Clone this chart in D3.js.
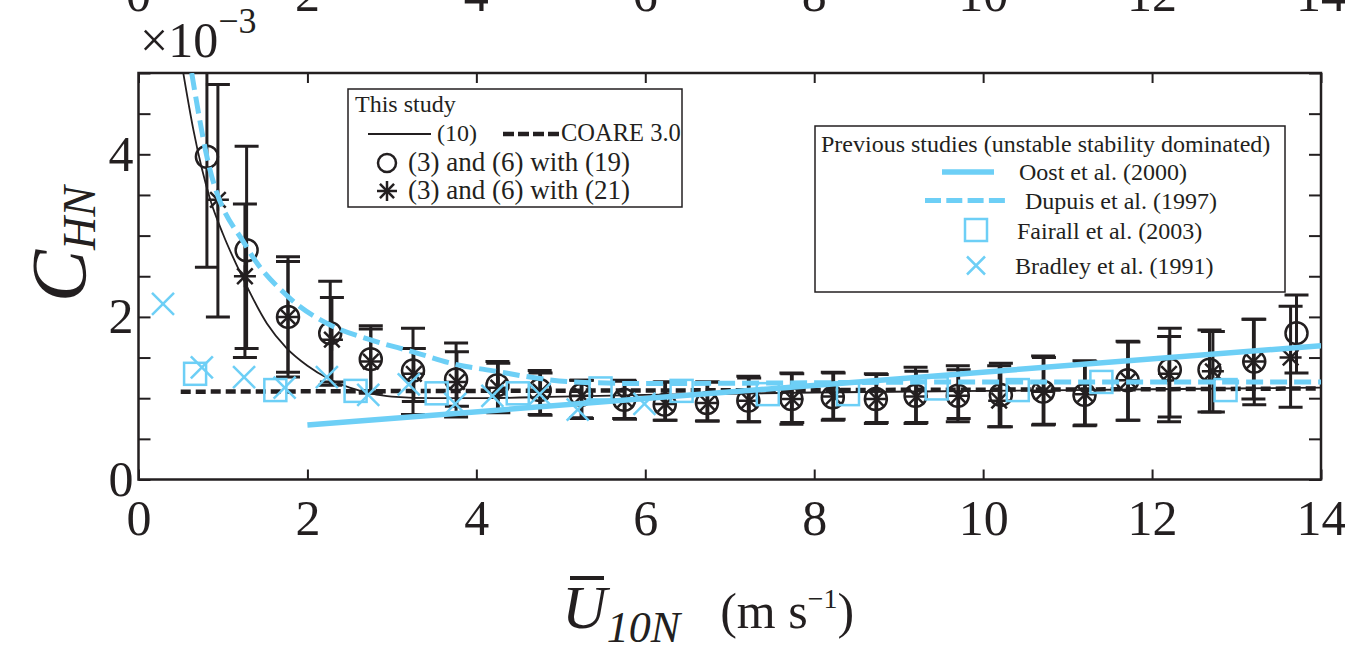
<!DOCTYPE html>
<html>
<head>
<meta charset="utf-8">
<script src="https://cdnjs.cloudflare.com/ajax/libs/d3/7.8.5/d3.min.js"></script>
<style>
  body { margin: 0; background: #fff; }
  svg { display: block; font-family: "Liberation Serif", "Times New Roman", serif; }
</style>
</head>
<body>
<svg id="chart" width="1345" height="645"></svg>
<script>
// ---- data (C_HN in units of 1e-3) ----
const xTicks = [0, 2, 4, 6, 8, 10, 12, 14];
const yTicks = [0, 0.5, 1, 1.5, 2, 2.5, 3, 3.5, 4, 4.5, 5];
const yLabels = [0, 2, 4];

// (3) and (6) with (19) -- circles
const eq19U    = [0.81, 1.28, 1.77, 2.27, 2.75, 3.25, 3.76, 4.25, 4.75, 5.24, 5.75, 6.23, 6.73, 7.22, 7.73, 8.22, 8.73, 9.20, 9.70, 10.21, 10.71, 11.20, 11.71, 12.21, 12.68, 13.21, 13.71];
const eq19C    = [3.97, 2.82, 2.00, 1.80, 1.48, 1.34, 1.23, 1.16, 1.10, 1.04, 0.98, 0.92, 0.94, 0.97, 0.99, 1.01, 0.99, 1.03, 1.03, 1.04, 1.08, 1.04, 1.22, 1.35, 1.35, 1.45, 1.80];
const eq19Low  = [2.61, 1.61, 1.26, 1.16, 1.06, 0.80, 0.77, 0.83, 0.80, 0.76, 0.75, 0.73, 0.72, 0.71, 0.68, 0.73, 0.69, 0.69, 0.71, 0.65, 0.67, 0.66, 0.73, 0.77, 0.83, 0.92, 1.31];
const eq19High = [5.40, 4.10, 2.74, 2.44, 1.89, 1.86, 1.68, 1.45, 1.34, 1.22, 1.22, 1.20, 1.20, 1.27, 1.31, 1.32, 1.30, 1.38, 1.40, 1.43, 1.52, 1.46, 1.70, 1.86, 1.84, 1.97, 2.27];

// (3) and (6) with (21) -- asterisks
const eq21U    = [0.94, 1.26, 1.77, 2.29, 2.75, 3.26, 3.77, 4.26, 4.76, 5.25, 5.76, 6.24, 6.74, 7.23, 7.74, 8.23, 8.74, 9.21, 9.71, 10.19, 10.72, 11.21, 11.72, 12.20, 12.72, 13.20, 13.64];
const eq21C    = [3.44, 2.50, 2.00, 1.72, 1.45, 1.30, 1.20, 1.13, 1.08, 1.03, 0.98, 0.93, 0.94, 0.97, 0.99, 1.02, 0.99, 1.02, 1.03, 0.97, 1.08, 1.05, 1.22, 1.30, 1.33, 1.45, 1.50];
const eq21Low  = [2.00, 1.50, 1.32, 1.20, 1.08, 0.96, 0.90, 0.82, 0.79, 0.75, 0.74, 0.73, 0.72, 0.71, 0.70, 0.74, 0.70, 0.70, 0.75, 0.65, 0.68, 0.67, 0.73, 0.71, 0.83, 0.99, 0.89];
const eq21High = [4.86, 3.39, 2.68, 2.24, 1.85, 1.61, 1.57, 1.43, 1.31, 1.22, 1.21, 1.20, 1.20, 1.25, 1.30, 1.31, 1.29, 1.33, 1.35, 1.40, 1.50, 1.45, 1.69, 1.76, 1.82, 1.97, 2.13];

// curve (10)
const eq10U = [0.53, 0.65, 0.85, 1.00, 1.22, 1.52, 1.75, 2.00, 2.25, 2.50, 2.75, 3.00, 3.50, 4.00, 5.00, 6.00, 8.00, 10.00, 12.00, 14.00];
const eq10C = [5.00, 4.30, 3.44, 3.02, 2.51, 1.92, 1.62, 1.40, 1.24, 1.13, 1.06, 1.02, 1.00, 1.00, 1.02, 1.04, 1.07, 1.09, 1.11, 1.13];

// COARE 3.0
const coareU = [0.5, 4, 8, 12, 14];
const coareC = [1.08, 1.09, 1.10, 1.11, 1.12];

// Oost et al. (2000)
const oostU = [2, 14];
const oostC = [0.67, 1.645];

// Dupuis et al. (1997)
const dupuisU = [0.63, 0.81, 1.28, 1.77, 2.27, 2.74, 3.25, 3.74, 4.24, 4.63, 5.15, 6.00, 8.00, 10.00, 12.00, 14.00];
const dupuisC = [5.00, 3.97, 2.86, 2.25, 1.90, 1.72, 1.57, 1.42, 1.33, 1.26, 1.20, 1.18, 1.19, 1.20, 1.20, 1.20];

// Fairall et al. (2003)
const fairallU = [0.67, 1.62, 2.57, 3.53, 4.49, 5.47, 6.43, 7.45, 8.40, 9.45, 10.41, 11.40, 12.87];
const fairallC = [1.30, 1.10, 1.09, 1.06, 1.06, 1.12, 1.09, 1.05, 1.05, 1.12, 1.10, 1.20, 1.10];

// Bradley et al. (1991)
const bradleyU = [0.29, 0.75, 1.25, 1.73, 2.23, 2.72, 3.20, 3.75, 4.19, 4.75, 5.20, 5.99];
const bradleyC = [2.16, 1.38, 1.26, 1.13, 1.26, 1.04, 1.17, 0.93, 1.03, 1.05, 0.86, 0.93];

// ---- styling ----
const INK = '#231f20';
const CYAN = '#6dcff6';
const SERIF = '"Liberation Serif", "Times New Roman", serif';

const svg = d3.select('#chart').attr('font-family', SERIF);
const x = d3.scaleLinear().domain([0, 14]).range([138.5, 1321]);
const y = d3.scaleLinear().domain([0, 5]).range([479.5, 73]);

const zip = (a, b) => a.map((v, i) => [v, b[i]]);
const line = d3.line().x(d => x(d[0])).y(d => y(d[1]));

svg.append('defs').append('clipPath').attr('id', 'plot-clip')
  .append('rect')
  .attr('x', x(0)).attr('y', y(5))
  .attr('width', x(14) - x(0)).attr('height', y(0) - y(5));

// cut-off tick labels of the panel above
svg.append('g').selectAll('text')
  .data(xTicks).enter().append('text')
  .attr('x', d => x(d)).attr('y', 11)
  .attr('text-anchor', 'middle')
  .style('font-size', '50px').attr('fill', INK)
  .text(d => d);

// ---- axes ----
function styleAxis(g) {
  g.attr('font-family', SERIF);
  g.select('.domain').remove();
  g.selectAll('.tick line').attr('stroke', INK).attr('stroke-width', 2);
  g.selectAll('.tick text').attr('fill', INK).style('font-size', '50px');
}

svg.append('g').attr('transform', `translate(0,${y(0)})`)
  .call(d3.axisBottom(x).tickValues(xTicks).tickSizeInner(-10).tickSizeOuter(0).tickPadding(20))
  .call(styleAxis);

svg.append('g').attr('transform', `translate(0,${y(5)})`)
  .call(d3.axisTop(x).tickValues(xTicks).tickSizeInner(-10).tickSizeOuter(0).tickFormat(''))
  .call(styleAxis);

svg.append('g').attr('transform', `translate(${x(0)},0)`)
  .call(d3.axisLeft(y).tickValues(yTicks).tickSizeInner(-12).tickSizeOuter(0).tickPadding(5)
    .tickFormat(d => yLabels.includes(d) ? d : ''))
  .call(styleAxis);

svg.append('g').attr('transform', `translate(${x(14)},0)`)
  .call(d3.axisRight(y).tickValues(yTicks).tickSizeInner(-12).tickSizeOuter(0).tickFormat(''))
  .call(styleAxis);

svg.append('rect')
  .attr('x', x(0)).attr('y', y(5))
  .attr('width', x(14) - x(0)).attr('height', y(0) - y(5))
  .attr('fill', 'none').attr('stroke', INK).attr('stroke-width', 2.5);

// ---- marks ----
const plot = svg.append('g').attr('clip-path', 'url(#plot-clip)');

function errorBars(us, lows, highs) {
  const g = plot.append('g').attr('stroke', INK).attr('stroke-width', 3).attr('fill', 'none');
  us.forEach((u, i) => {
    const cx = x(u);
    g.append('line').attr('x1', cx).attr('x2', cx).attr('y1', y(lows[i])).attr('y2', y(highs[i]));
    g.append('line').attr('x1', cx - 12).attr('x2', cx + 12).attr('y1', y(lows[i])).attr('y2', y(lows[i]));
    g.append('line').attr('x1', cx - 12).attr('x2', cx + 12).attr('y1', y(highs[i])).attr('y2', y(highs[i]));
  });
}
errorBars(eq19U, eq19Low, eq19High);
errorBars(eq21U, eq21Low, eq21High);

function circleMark(g, cx, cy, r) {
  g.append('circle').attr('cx', cx).attr('cy', cy).attr('r', r)
    .attr('fill', 'none').attr('stroke', INK).attr('stroke-width', 2.5);
}
function starMark(g, cx, cy, r) {
  [0, 45, 90, 135].forEach(a => {
    const t = a * Math.PI / 180;
    g.append('line')
      .attr('x1', cx - r * Math.cos(t)).attr('y1', cy - r * Math.sin(t))
      .attr('x2', cx + r * Math.cos(t)).attr('y2', cy + r * Math.sin(t))
      .attr('stroke', INK).attr('stroke-width', 2.5);
  });
}
function squareMark(g, cx, cy, s) {
  g.append('rect').attr('x', cx - s / 2).attr('y', cy - s / 2).attr('width', s).attr('height', s)
    .attr('fill', 'none').attr('stroke', CYAN).attr('stroke-width', 2.5);
}
function crossMark(g, cx, cy, r) {
  [[-1, -1, 1, 1], [-1, 1, 1, -1]].forEach(p => {
    g.append('line')
      .attr('x1', cx + p[0] * r).attr('y1', cy + p[1] * r)
      .attr('x2', cx + p[2] * r).attr('y2', cy + p[3] * r)
      .attr('stroke', CYAN).attr('stroke-width', 2.5);
  });
}

const gCirc = plot.append('g');
eq19U.forEach((u, i) => circleMark(gCirc, x(u), y(eq19C[i]), 11));
const gStar = plot.append('g');
eq21U.forEach((u, i) => starMark(gStar, x(u), y(eq21C[i]), 11));

plot.append('path')
  .attr('d', line.curve(d3.curveMonotoneX)(zip(eq10U, eq10C)))
  .attr('fill', 'none').attr('stroke', INK).attr('stroke-width', 1.8);

plot.append('path')
  .attr('d', d3.line().x(d => x(d[0])).y(d => y(d[1]))(zip(coareU, coareC)))
  .attr('fill', 'none').attr('stroke', INK).attr('stroke-width', 4.5).attr('stroke-dasharray', '10,5');

const gSq = plot.append('g');
fairallU.forEach((u, i) => squareMark(gSq, x(u), y(fairallC[i]), 22));
const gX = plot.append('g');
bradleyU.forEach((u, i) => crossMark(gX, x(u), y(bradleyC[i]), 11));

plot.append('path')
  .attr('d', d3.line().x(d => x(d[0])).y(d => y(d[1]))(zip(oostU, oostC)))
  .attr('fill', 'none').attr('stroke', CYAN).attr('stroke-width', 5.5);

plot.append('path')
  .attr('d', d3.line().x(d => x(d[0])).y(d => y(d[1])).curve(d3.curveMonotoneX)(zip(dupuisU, dupuisC)))
  .attr('fill', 'none').attr('stroke', CYAN).attr('stroke-width', 5).attr('stroke-dasharray', '17,7');

// ---- legend: this study ----
const leg1 = svg.append('g');
leg1.append('rect').attr('x', 348).attr('y', 89).attr('width', 334).attr('height', 118)
  .attr('fill', '#fff').attr('stroke', INK).attr('stroke-width', 1.5);
leg1.append('text').attr('x', 355).attr('y', 112).style('font-size', '24px').attr('fill', INK).text('This study');
leg1.append('line').attr('x1', 368).attr('x2', 431).attr('y1', 134).attr('y2', 134)
  .attr('stroke', INK).attr('stroke-width', 2);
leg1.append('text').attr('x', 437).attr('y', 141).style('font-size', '24px').attr('fill', INK).text('(10)');
leg1.append('line').attr('x1', 503).attr('x2', 560).attr('y1', 134).attr('y2', 134)
  .attr('stroke', INK).attr('stroke-width', 4.5).attr('stroke-dasharray', '11,4');
leg1.append('text').attr('x', 561).attr('y', 141).style('font-size', '24.5px').attr('fill', INK).text('COARE 3.0');
circleMark(leg1, 387, 163, 9);
leg1.append('text').attr('x', 408).attr('y', 171).style('font-size', '27px').attr('fill', INK).text('(3) and (6) with (19)');
starMark(leg1, 387, 191, 10);
leg1.append('text').attr('x', 408).attr('y', 199).style('font-size', '27px').attr('fill', INK).text('(3) and (6) with (21)');

// ---- legend: previous studies ----
const leg2 = svg.append('g');
leg2.append('rect').attr('x', 815).attr('y', 126).attr('width', 470).attr('height', 166)
  .attr('fill', '#fff').attr('stroke', INK).attr('stroke-width', 1.5);
leg2.append('text').attr('x', 821).attr('y', 152).style('font-size', '24px').attr('fill', INK)
  .text('Previous studies (unstable stability dominated)');
leg2.append('line').attr('x1', 942).attr('x2', 994).attr('y1', 172).attr('y2', 172)
  .attr('stroke', CYAN).attr('stroke-width', 5.5);
leg2.append('text').attr('x', 1019).attr('y', 180).style('font-size', '24px').attr('fill', INK).text('Oost et al. (2000)');
leg2.append('line').attr('x1', 925).attr('x2', 1005).attr('y1', 200.5).attr('y2', 200.5)
  .attr('stroke', CYAN).attr('stroke-width', 5).attr('stroke-dasharray', '16,5.3');
leg2.append('text').attr('x', 1025).attr('y', 209).style('font-size', '24px').attr('fill', INK).text('Dupuis et al. (1997)');
squareMark(leg2, 976, 230, 22);
leg2.append('text').attr('x', 1017).attr('y', 239).style('font-size', '24px').attr('fill', INK).text('Fairall et al. (2003)');
crossMark(leg2, 976, 265.5, 9);
leg2.append('text').attr('x', 1015).attr('y', 274).style('font-size', '24px').attr('fill', INK).text('Bradley et al. (1991)');

// ---- multiplier ----
const mult = svg.append('text').attr('x', 140).attr('y', 57).attr('fill', INK).style('font-size', '50px');
mult.append('tspan').text('\u00d710');
mult.append('tspan').attr('dy', -24).style('font-size', '36px').text('\u22123');

// ---- axis titles ----
const yt = svg.append('text').attr('transform', 'translate(85,302) rotate(-90)')
  .attr('fill', INK).style('font-style', 'italic');
yt.append('tspan').style('font-size', '78px').text('C');
yt.append('tspan').attr('dy', 10).style('font-size', '46px').text('HN');

const xt = svg.append('text').attr('x', 562).attr('y', 628).attr('fill', INK);
xt.append('tspan').style('font-style', 'italic').style('font-size', '62px').text('U');
xt.append('tspan').attr('dy', 14).style('font-style', 'italic').style('font-size', '44px').text('10N');
xt.append('tspan').attr('dy', -14).attr('dx', 40).style('font-size', '50px').text('(m s');
xt.append('tspan').attr('dy', -20).style('font-size', '28px').text('\u22121');
xt.append('tspan').attr('dy', 20).style('font-size', '50px').text(')');
svg.append('line').attr('x1', 570).attr('x2', 604).attr('y1', 578).attr('y2', 578)
  .attr('stroke', INK).attr('stroke-width', 4);
</script>
</body>
</html>
